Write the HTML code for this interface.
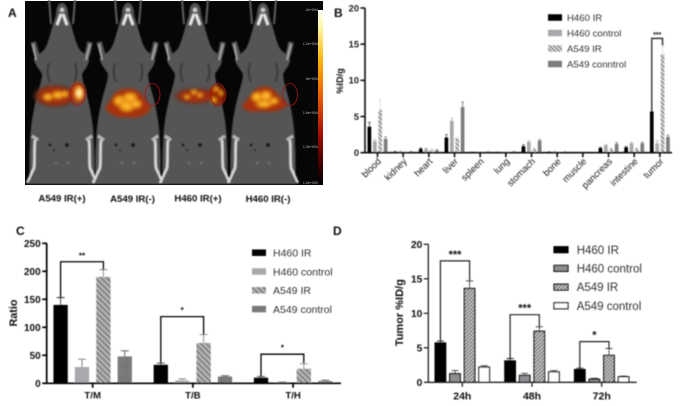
<!DOCTYPE html>
<html lang="en">
<head>
<meta charset="utf-8">
<title>Biodistribution figure</title>
<style>
html,body{margin:0;padding:0;background:#fff;}
body{width:685px;height:406px;overflow:hidden;}
svg{display:block;font-family:"Liberation Sans",sans-serif;}
</style>
</head>
<body>
<svg id="fig" xmlns="http://www.w3.org/2000/svg" width="685" height="406" viewBox="0 0 685 406">
<defs>
  <filter id="soft" x="-2%" y="-2%" width="104%" height="104%"><feGaussianBlur stdDeviation="0.42"/></filter>
  <filter id="imgblur" x="-5%" y="-5%" width="110%" height="110%"><feGaussianBlur stdDeviation="0.7"/></filter>
  <filter id="heatblur" x="-30%" y="-50%" width="160%" height="200%"><feGaussianBlur stdDeviation="1.5"/></filter>
  <linearGradient id="cbar" x1="0" y1="0" x2="0" y2="1">
    <stop offset="0" stop-color="#ffffff"/><stop offset=".1" stop-color="#fff6a0"/>
    <stop offset=".3" stop-color="#ffb000"/><stop offset=".5" stop-color="#e85a00"/>
    <stop offset=".7" stop-color="#a80f00"/><stop offset=".88" stop-color="#400000"/>
    <stop offset="1" stop-color="#000"/>
  </linearGradient>
  <radialGradient id="glow">
    <stop offset="0" stop-color="#b83a08"/><stop offset=".65" stop-color="#a02c08" stop-opacity=".95"/>
    <stop offset=".88" stop-color="#6a2a18" stop-opacity=".7"/>
    <stop offset="1" stop-color="#5a4a44" stop-opacity="0"/>
  </radialGradient>
  <radialGradient id="hot">
    <stop offset="0" stop-color="#ffffff"/><stop offset=".4" stop-color="#ffe060"/>
    <stop offset=".75" stop-color="#e07010"/><stop offset="1" stop-color="#a02000" stop-opacity="0"/>
  </radialGradient>
  <radialGradient id="core">
    <stop offset="0" stop-color="#ffc838"/><stop offset=".6" stop-color="#f09a18"/>
    <stop offset="1" stop-color="#d86008" stop-opacity="0"/>
  </radialGradient>
  <pattern id="stripeB" width="3" height="3" patternUnits="userSpaceOnUse" patternTransform="rotate(45)">
    <rect width="3" height="3" fill="#e4e4e4"/><rect width="3" height="1.6" fill="#8a8a8a"/>
  </pattern>
  <pattern id="checkB" width="2" height="2" patternUnits="userSpaceOnUse">
    <rect width="2" height="2" fill="#9a9a9a"/><rect width="1" height="1" fill="#555"/><rect x="1" y="1" width="1" height="1" fill="#555"/>
  </pattern>
  <pattern id="stripeC" width="4" height="4" patternUnits="userSpaceOnUse" patternTransform="rotate(45)">
    <rect width="4" height="4" fill="#b8b8b8"/><rect width="4" height="2" fill="#828282"/>
  </pattern>
  <pattern id="checkC" width="2.4" height="2.4" patternUnits="userSpaceOnUse">
    <rect width="2.4" height="2.4" fill="#b0b0b0"/><rect width="1.2" height="1.2" fill="#333"/><rect x="1.2" y="1.2" width="1.2" height="1.2" fill="#333"/>
  </pattern>
  <pattern id="stripeD" width="2.6" height="2.6" patternUnits="userSpaceOnUse" patternTransform="rotate(-45)">
    <rect width="2.6" height="2.6" fill="#c8c8c8"/><rect width="2.6" height="1.3" fill="#777"/>
  </pattern>
  <g id="mouse">
    <path d="M-13,-1 L-11,24 M13,-1 L11,24" stroke="#6a6a6a" stroke-width="1.8" fill="none"/>
    <path d="M-23,60 C-26,54 -27,48 -29,42 M23,60 C26,54 27,48 28,42" stroke="#565656" stroke-width="5.5" fill="none"/>
    <path fill="#555" d="M0,3 C4,3 6,8 6,15 C8,22 10,27 11,32 C13,38 14,44 18,50 C22,54 27,56 27,60 C27,65 22,70 20,74 C20,80 23,88 26,100 C29,112 32,130 32,145 C33,160 32,172 33,184 L-33,184 C-32,172 -33,160 -32,145 C-32,130 -29,112 -26,100 C-23,88 -20,80 -20,74 C-22,70 -27,65 -28,60 C-28,56 -22,54 -18,50 C-14,44 -13,38 -11,32 C-10,27 -8,22 -6,15 C-6,8 -4,3 0,3Z"/>
    <path d="M-1,14 L-5,25 M1,14 L5,25" stroke="#ececec" stroke-width="2.6" fill="none"/>
    <circle cx="0" cy="10" r="2.2" fill="#ccc"/>
    <path d="M-26,60 L-29,44 M24,60 L28,44" stroke="#a8a8a8" stroke-width="1.8" fill="none"/>
    <path d="M-13,63 C-15,70 -15,76 -12,82 M13,63 C15,70 15,76 12,82" stroke="#3a3a3a" stroke-width="2.2" fill="none"/>
    <path d="M-27,140 C-28,150 -27,160 -28,168 L-35,183 M27,140 C28,150 27,160 28,168 L35,183" stroke="#dcdcdc" stroke-width="2.4" fill="none"/>
    <path d="M-30,136 L-24,140 M30,136 L24,140" stroke="#b8b8b8" stroke-width="3" fill="none"/>
    <circle cx="-12" cy="145" r="1.5" fill="#151515"/><circle cx="5" cy="145" r="2.1" fill="#151515"/>
    <circle cx="-8" cy="150" r="1.1" fill="#222"/>
    <circle cx="-6" cy="163" r="1.1" fill="#7a7a7a"/><circle cx="6" cy="163" r="1.1" fill="#7a7a7a"/>
  </g>
</defs>

<g>
  <g>
    <rect x="25" y="1" width="298" height="184" fill="#060606"/>
    <g filter="url(#imgblur)">
      <use href="#mouse" x="62" y="0"/>
      <use href="#mouse" x="128" y="0"/>
      <use href="#mouse" x="195" y="0"/>
      <use href="#mouse" x="263" y="0"/>
    </g>
    <g filter="url(#heatblur)">
      <g>
        <ellipse cx="55" cy="96" rx="23" ry="12" fill="url(#glow)"/>
        <ellipse cx="48" cy="97" rx="6" ry="4" fill="url(#core)"/>
        <ellipse cx="58" cy="95" rx="7" ry="4.5" fill="url(#core)"/>
        <ellipse cx="65" cy="94" rx="4" ry="3.5" fill="url(#core)"/>
        <ellipse cx="78" cy="93" rx="7.5" ry="10.5" fill="#b83a08"/>
        <ellipse cx="79" cy="93" rx="5.5" ry="9" fill="url(#hot)"/>
      </g>
      <g>
        <path d="M105,108 L115,93 C122,87 134,87 141,93 L151,108 C147,117 134,119 128,117 C120,119 109,115 105,108Z" fill="#a83208"/>
        <ellipse cx="120" cy="101" rx="8" ry="6.5" fill="url(#core)"/>
        <ellipse cx="130" cy="98" rx="9" ry="6.5" fill="url(#core)"/>
        <ellipse cx="127" cy="106" rx="10" ry="7" fill="url(#core)"/>
        <ellipse cx="136" cy="104" rx="7" ry="5" fill="url(#core)"/>
      </g>
      <g>
        <ellipse cx="195" cy="96" rx="22" ry="8.5" fill="url(#glow)"/>
        <ellipse cx="187" cy="97" rx="3.5" ry="2.2" fill="url(#core)"/>
        <ellipse cx="194" cy="92" rx="3.5" ry="2.5" fill="url(#core)"/>
        <ellipse cx="200" cy="95" rx="3" ry="2.5" fill="url(#core)"/>
        <ellipse cx="217" cy="95" rx="8" ry="10" fill="#9a2806"/>
        <ellipse cx="216" cy="89" rx="3" ry="2.5" fill="url(#core)"/>
        <ellipse cx="221" cy="93" rx="2.5" ry="2.5" fill="url(#core)"/>
        <ellipse cx="214" cy="100" rx="3" ry="3" fill="url(#core)"/>
      </g>
      <g>
        <path d="M242,106 L254,91 C260,85 270,85 275,91 L287,104 C285,111 270,113 262,111 C254,113 245,112 242,106Z" fill="#a83208"/>
        <ellipse cx="257" cy="97" rx="7" ry="6" fill="url(#core)"/>
        <ellipse cx="266" cy="96" rx="7" ry="6.5" fill="url(#core)"/>
        <ellipse cx="264" cy="104" rx="10" ry="4.5" fill="url(#core)"/>
        <ellipse cx="274" cy="101" rx="5.5" ry="4" fill="url(#core)"/>
      </g>
    </g>
    <g fill="none" stroke="#a81414" stroke-width="0.8">
      <ellipse cx="77.5" cy="94.5" rx="7.5" ry="11"/>
      <ellipse cx="152.5" cy="94.5" rx="7.5" ry="11"/>
      <ellipse cx="218" cy="94.5" rx="7.5" ry="11"/>
      <ellipse cx="290" cy="94.5" rx="7.5" ry="11"/>
    </g>
    <rect x="318" y="10" width="5" height="175" fill="url(#cbar)"/>
    <g fill="#bbb" font-size="3.6" text-anchor="end">
      <text x="318" y="11">.2e+004</text>
      <text x="318" y="45">1.2e+004</text>
      <text x="318" y="80">.9e+004</text>
      <text x="318" y="114">1.6e+004</text>
      <text x="318" y="148">1.3e+004</text>
      <text x="318" y="184">1.0e+000</text>
    </g>
  </g>
</g>

<g id="vector" filter="url(#soft)">
  <g font-weight="bold" font-size="12" fill="#111">
    <text x="8" y="17">A</text>
    <text x="334" y="17">B</text>
    <text x="16" y="235">C</text>
    <text x="333" y="235">D</text>
  </g>
  <g font-weight="bold" font-size="9.6" fill="#111" text-anchor="middle">
    <text x="62" y="201.5">A549 IR(+)</text>
    <text x="132.5" y="202">A549 IR(-)</text>
    <text x="198" y="201.5">H460 IR(+)</text>
    <text x="268" y="202">H460 IR(-)</text>
  </g>
</g>

<script>
// Panel B: organ biodistribution
const bCategories = ['blood','kidney','heart','liver','spleen','lung','stomach','bone','muscle','pancreas','intestine','tumor'];
const bH460IR = [3.6,0.1,0.55,2.1,0.05,0.05,0.9,0.1,0.03,0.65,0.75,5.7];
const bH460Control = [1.6,0.15,0.55,4.4,0.08,0.08,1.5,0.15,0.03,1.05,1.3,1.3];
const bA549IR = [5.9,0.1,0.4,2.0,0.05,0.08,0.55,0.05,0.03,0.55,0.6,13.6];
const bA549Control = [1.9,0.1,0.3,6.3,0.1,0.12,1.65,0.1,0.03,1.2,1.3,2.2];
const bH460IRErr = [0.6,0.1,0.1,0.4,0.03,0.03,0.2,0.03,0.02,0.1,0.1,0];
const bH460ControlErr = [0.2,0.1,0.1,0.4,0.03,0.03,0.15,0.05,0.02,0.1,0.1,0.4];
const bA549IRErr = [1.5,0.1,0.1,0.1,0.03,0.03,0.15,0.03,0.02,0.15,0.15,1.1];
const bA549ControlErr = [0.3,0.1,0.1,0.7,0.03,0.05,0.15,0.03,0.02,0.2,0.15,0.25];
const bTicks = [0,5,10,15,20];
const bLegend = ['H460 IR','H460 control','A549 IR','A549 conntrol'];
const bBrackets = [{from:11,fromBar:0,toBar:2,level:15.8,label:'***',leftEnd:5.7,rightEnd:14.8}];

// Panel C: tumor-to-tissue ratio
const cCategories = ['T/M','T/B','T/H'];
const cH460IR = [140,33,10];
const cH460Control = [29,5,2];
const cA549IR = [190,72,26];
const cA549Control = [48,12,4];
const cH460IRErr = [13,3,2];
const cH460ControlErr = [14,3,0.5];
const cA549IRErr = [13,15,9];
const cA549ControlErr = [10,1.5,1.5];
const cTicks = [0,50,100,150,200,250];
const cLegend = ['H460 IR','H460 control','A549 IR','A549 control'];
const cBrackets = [
  {from:0,fromBar:0,toBar:2,level:217,label:'**',leftEnd:153,rightEnd:203},
  {from:1,fromBar:0,toBar:2,level:119,label:'*',leftEnd:37,rightEnd:87},
  {from:2,fromBar:0,toBar:2,level:52,label:'*',leftEnd:13,rightEnd:36}
];

// Panel D: tumor uptake over time
const dCategories = ['24h','48h','72h'];
const dH460IR = [5.7,3.1,1.85];
const dH460Control = [1.25,1.0,0.45];
const dA549IR = [13.6,7.4,3.9];
const dA549Control = [2.2,1.5,0.8];
const dH460IRErr = [0.3,0.35,0.2];
const dH460ControlErr = [0.45,0.3,0.15];
const dA549IRErr = [1.1,0.65,1.0];
const dA549ControlErr = [0.2,0.2,0.1];
const dTicks = [0,5,10,15,20];
const dLegend = ['H460 IR','H460 control','A549 IR','A549 control'];
const dBrackets = [
  {from:0,fromBar:0,toBar:2,level:17.6,label:'***',leftEnd:6.0,rightEnd:14.8},
  {from:1,fromBar:0,toBar:2,level:9.8,label:'***',leftEnd:3.5,rightEnd:8.1},
  {from:2,fromBar:0,toBar:2,level:5.9,label:'*',leftEnd:2.05,rightEnd:4.9}
];

const NS = 'http://www.w3.org/2000/svg';
const root = document.getElementById('vector');

function mk(tag, attrs, parent) {
  const e = document.createElementNS(NS, tag);
  for (const k in attrs) e.setAttribute(k, attrs[k]);
  parent.appendChild(e);
  return e;
}

function drawChart(cfg) {
  const g = mk('g', {}, root);
  
  

  const yScale = v => cfg.y0 + (cfg.yTop - cfg.y0) * v / cfg.yMax;
  const groupX = i => cfg.firstCenter + cfg.groupStep * i;
  const barX = (i, s) => groupX(i) + (s - 1.5) * cfg.barStep;

  // bars and error bars
  cfg.series.forEach((vals, s) => {
    const st = cfg.styles[s];
    vals.forEach((v, i) => {
      const x = barX(i, s);
      const err = cfg.errors[s][i];
      if (err > 0) {
        const l = mk('path', {
          d: 'M' + x + ',' + yScale(v) + 'V' + yScale(v + err) + 'M' + (x - cfg.cap) + ',' + yScale(v + err) + 'H' + (x + cfg.cap),
          stroke: st.err, 'stroke-width': cfg.errWidth, fill: 'none'
        }, g);
        
        
      }
      const h = cfg.y0 - yScale(v);
      const r = mk('rect', {
        x: x - cfg.barW / 2, y: yScale(v), width: cfg.barW, height: h,
        fill: st.fill, stroke: st.stroke || 'none', 'stroke-width': st.stroke ? 1.2 : 0
      }, g);
      
      
    });
  });

  // significance brackets
  cfg.brackets.forEach(b => {
    const x1 = barX(b.from, b.fromBar), x2 = barX(b.from, b.toBar);
    const p = mk('path', {
      d: 'M' + x1 + ',' + yScale(b.leftEnd) + 'V' + yScale(b.level) + 'H' + x2 + 'V' + yScale(b.rightEnd),
      fill: 'none', stroke: cfg.bracketColor, 'stroke-width': cfg.bracketWidth
    }, g);
    
    
    const t = mk('text', {
      x: (x1 + x2) / 2, y: yScale(b.level) + cfg.starOffset,
      'text-anchor': 'middle', 'font-size': cfg.starSize, 'font-weight': 'bold', fill: '#111'
    }, g);
    t.textContent = b.label;
    
    
  });

  // axes
  const ax = mk('path', {
    d: 'M' + cfg.x0 + ',' + cfg.yTop + 'V' + cfg.y0 + 'H' + cfg.xEnd,
    fill: 'none', stroke: cfg.axisColor, 'stroke-width': cfg.axisWidth
  }, g);
  
  

  cfg.ticks.forEach(v => {
    const y = yScale(v);
    const tk = mk('line', {x1: cfg.x0 - 4.5, x2: cfg.x0, y1: y, y2: y, stroke: cfg.axisColor, 'stroke-width': cfg.axisWidth}, g);
    
    
    const t = mk('text', {
      x: cfg.x0 - 6, y: y + cfg.tickSize * 0.36, 'text-anchor': 'end',
      'font-size': cfg.tickSize, 'font-weight': 'bold', fill: cfg.tickColor
    }, g);
    t.textContent = v;
    
    
  });

  cfg.categories.forEach((c, i) => {
    const x = groupX(i);
    const tk = mk('line', {x1: x, x2: x, y1: cfg.y0, y2: cfg.y0 + 4.5, stroke: cfg.axisColor, 'stroke-width': cfg.axisWidth}, g);
    
    
    let t;
    if (cfg.rotateX) {
      t = mk('text', {
        transform: 'translate(' + (x + 2.5) + ',' + (cfg.y0 + 7.5) + ') rotate(-45)',
        'text-anchor': 'end', 'font-size': cfg.xSize, fill: '#222', 'dominant-baseline': 'middle'
      }, g);
    } else {
      t = mk('text', {
        x: x, y: cfg.y0 + cfg.xOffset, 'text-anchor': 'middle',
        'font-size': cfg.xSize, 'font-weight': 'bold', fill: '#111'
      }, g);
    }
    t.textContent = c;
    
    
  });

  // y axis title
  const yt = mk('text', {
    transform: 'translate(' + cfg.titleX + ',' + cfg.titleY + ') rotate(-90)',
    'text-anchor': 'middle', 'font-size': cfg.titleSize, 'font-weight': 'bold', fill: '#111'
  }, g);
  yt.textContent = cfg.title;
  
  

  // legend
  cfg.legend.forEach((name, s) => {
    const st = cfg.styles[s];
    const y = cfg.legendY + s * cfg.legendStep;
    const sw = mk('rect', {
      x: cfg.legendX, y: y - cfg.swatchH / 2, width: 14, height: cfg.swatchH,
      fill: st.fill, stroke: st.stroke || 'none', 'stroke-width': st.stroke ? 1.2 : 0
    }, g);
    
    
    const t = mk('text', {
      x: cfg.legendText, y: y + cfg.legendSize * 0.36, 'font-size': cfg.legendSize, fill: '#333'
    }, g);
    t.textContent = name;
    
    
  });
}

drawChart({
  id: 'panel-b-chart',
  categories: bCategories,
  series: [bH460IR, bH460Control, bA549IR, bA549Control],
  errors: [bH460IRErr, bH460ControlErr, bA549IRErr, bA549ControlErr],
  styles: [
    {fill: '#000', err: '#444'},
    {fill: '#a9a9ad', err: '#b5b5b5'},
    {fill: 'url(#stripeB)', err: '#d8d8d8'},
    {fill: 'url(#checkB)', err: '#777'}
  ],
  legend: bLegend, ticks: bTicks, brackets: bBrackets,
  x0: 365, xEnd: 672, y0: 152.7, yTop: 8, yMax: 20,
  firstCenter: 377.5, groupStep: 25.67, barStep: 5.4, barW: 3.7, cap: 1.3, errWidth: 0.8,
  axisColor: '#111', axisWidth: 1.6, tickSize: 9.3, tickColor: '#222',
  rotateX: true, xSize: 9.4,
  title: '%ID/g', titleX: 343, titleY: 81, titleSize: 9.2,
  legendX: 548, legendText: 567, legendY: 17.5, legendStep: 15.5, legendSize: 9.6, swatchH: 6.5,
  bracketColor: '#333', bracketWidth: 1.4, starOffset: -1.5, starSize: 7
});

drawChart({
  id: 'panel-c-chart',
  categories: cCategories,
  series: [cH460IR, cH460Control, cA549IR, cA549Control],
  errors: [cH460IRErr, cH460ControlErr, cA549IRErr, cA549ControlErr],
  styles: [
    {fill: '#000', err: '#333'},
    {fill: '#a9a9ad', err: '#777'},
    {fill: 'url(#stripeC)', err: '#888'},
    {fill: 'url(#checkC)', err: '#555'}
  ],
  legend: cLegend, ticks: cTicks, brackets: cBrackets,
  x0: 46.7, xEnd: 341, y0: 383.3, yTop: 243.3, yMax: 250,
  firstCenter: 92.7, groupStep: 100.2, barStep: 21.4, barW: 14.3, cap: 4, errWidth: 0.9,
  axisColor: '#000', axisWidth: 1.7, tickSize: 10, tickColor: '#111',
  rotateX: false, xSize: 9.6, xOffset: 15,
  title: 'Ratio', titleX: 17, titleY: 313, titleSize: 10.8,
  legendX: 252, legendText: 273, legendY: 252.7, legendStep: 18.8, legendSize: 10.5, swatchH: 6.5,
  bracketColor: '#000', bracketWidth: 1.3, starOffset: -3.5, starSize: 8
});

drawChart({
  id: 'panel-d-chart',
  categories: dCategories,
  series: [dH460IR, dH460Control, dA549IR, dA549Control],
  errors: [dH460IRErr, dH460ControlErr, dA549IRErr, dA549ControlErr],
  styles: [
    {fill: '#000', stroke: '#000', err: '#222'},
    {fill: '#8e8e92', stroke: '#111', err: '#444'},
    {fill: 'url(#stripeD)', stroke: '#111', err: '#444'},
    {fill: '#fff', stroke: '#111', err: '#444'}
  ],
  legend: dLegend, ticks: dTicks, brackets: dBrackets,
  x0: 428.3, xEnd: 636.7, y0: 382.3, yTop: 244.3, yMax: 20,
  firstCenter: 462.3, groupStep: 69.7, barStep: 14.6, barW: 10.6, cap: 3.5, errWidth: 0.9,
  axisColor: '#222', axisWidth: 1.3, tickSize: 10.2, tickColor: '#111',
  rotateX: false, xSize: 10.5, xOffset: 17,
  title: 'Tumor %ID/g', titleX: 403, titleY: 312.7, titleSize: 11,
  legendX: 554, legendText: 576.7, legendY: 249.7, legendStep: 18.7, legendSize: 11.5, swatchH: 6,
  bracketColor: '#222', bracketWidth: 1.2, starOffset: -3, starSize: 11
});
</script>
</svg>
</body>
</html>
